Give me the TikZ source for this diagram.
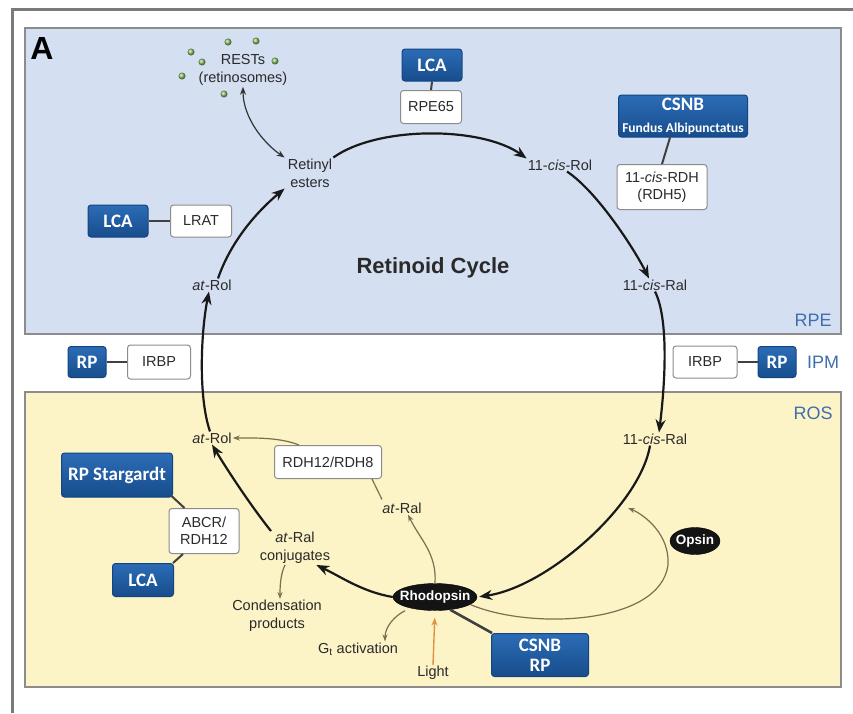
\documentclass[tikz,border=0pt]{standalone}
\usepackage{fontspec}
\setmainfont{Liberation Sans}
\newfontfamily\boxfont{Carlito}
\usetikzlibrary{arrows.meta,shapes.geometric}
\definecolor{rpeblue}{HTML}{D5DFF2}
\definecolor{rosyellow}{HTML}{FCF3C6}
\definecolor{dblue}{HTML}{1D5CA3}
\definecolor{dbluetop}{HTML}{2C6CB6}
\definecolor{dbluebot}{HTML}{174D8C}
\definecolor{dbluedraw}{HTML}{134580}
\definecolor{lbl}{HTML}{3E6FAF}
\definecolor{olivec}{HTML}{7A7050}
\definecolor{txt}{HTML}{2A2A2A}
\definecolor{dotgreen}{HTML}{8CC063}
\definecolor{framec}{HTML}{7A7A7A}
\definecolor{lightor}{HTML}{E39140}
\begin{document}
\begin{tikzpicture}[x=1pt,y=-1pt,
  lab/.style={text=txt,font=\fontsize{14.5}{18}\selectfont,align=center,inner sep=1pt},
  gene/.style={rounded corners=3pt,fill=white,draw=black!45,line width=1pt,text=txt,
    font=\fontsize{14.5}{17}\selectfont,align=center,inner sep=0pt},
  dis/.style={rounded corners=3pt,top color=dbluetop,bottom color=dbluebot,draw=dbluedraw,
    line width=1pt,text=white,font=\boxfont\bfseries\fontsize{19}{20}\selectfont,align=center,inner sep=0pt},
  ell/.style={ellipse,fill=black!92,draw=black,text=white,inner sep=0pt,
    font=\bfseries\fontsize{13.5}{15}\selectfont},
  reg/.style={text=lbl,font=\fontsize{18}{20}\selectfont,inner sep=0pt},
  cyc/.style={draw=black!90,line width=2.2pt,-{Stealth[length=13pt,width=10pt]}},
  thinarr/.style={draw=olivec,line width=1.2pt,-{Stealth[length=7pt,width=5pt]}},
  link/.style={draw=black!75,line width=2pt},
]
\useasboundingbox (0,0) rectangle (853,713);
\fill[white] (0,0) rectangle (853,713);
% frame and panels
\draw[framec,line width=3pt] (12,713) -- (12,9) -- (853,9);
\draw[fill=rpeblue,draw=black!45,line width=1.5pt] (25,28) rectangle (841,334);
\draw[fill=rosyellow,draw=black!45,line width=1.5pt] (25,392) rectangle (841,687);
\node[font=\bfseries\fontsize{32}{34}\selectfont,inner sep=0pt] (A) at (42,48) {A};
\node[reg] (rpe) at (813,320) {RPE};
\node[reg] (ipm) at (823,362) {IPM};
\node[reg] (ros) at (813,413) {ROS};
\node[font=\bfseries\fontsize{22}{24}\selectfont,text=txt] (rc) at (433,268) {Retinoid Cycle};

% RESTs
\foreach \p in {(228,42),(256,41),(191,52),(202,62),(275,61),(182,76),(224,94)}
  \shade[ball color=dotgreen] \p circle (3.5);
\node[lab] (rests) at (243,70) {RESTs\\(retinosomes)};

% cycle labels
\node[lab] (re) at (310,173) {Retinyl\\esters};
\node[lab] (cr) at (560,165) {11-\textit{cis}-Rol};
\node[lab] (crl1) at (655,285) {11-\textit{cis}-Ral};
\node[lab] (crl2) at (655,439) {11-\textit{cis}-Ral};
\node[lab] (arol1) at (212,285) {\textit{at}-Rol};
\node[lab] (arol2) at (212,438) {\textit{at}-Rol};
\node[lab] (aral) at (402,508) {\textit{at}-Ral};
\node[lab] (conj) at (295,548) {\textit{at}-Ral\\conjugates};
\node[lab] (cond) at (277,616) {Condensation\\products};
\node[lab] (gt) at (358,649) {G\textsubscript{t} activation};
\node[lab] (light) at (433,673) {Light};

% gene boxes
\node[gene,minimum width=61pt,minimum height=33pt] (rpe65) at (431,107) {RPE65};
\node[gene,minimum width=90pt,minimum height=45pt] (rdh5) at (662,187) {11-\textit{cis}-RDH\\(RDH5)};
\node[gene,minimum width=61pt,minimum height=32pt] (lrat) at (201,221) {LRAT};
\node[gene,minimum width=63pt,minimum height=34pt] (irbp1) at (159,362) {IRBP};
\node[gene,minimum width=64pt,minimum height=32pt] (irbp2) at (705,362) {IRBP};
\node[gene,minimum width=107pt,minimum height=33pt] (rdh) at (328,462) {RDH12/RDH8};
\node[gene,minimum width=70pt,minimum height=45pt] (abcr) at (204,531) {ABCR/\\RDH12};

% disease boxes
\node[dis,minimum width=60pt,minimum height=32pt] (lca1) at (432,65) {LCA};
\node[dis,minimum width=129pt,minimum height=42pt,font=\boxfont\bfseries\fontsize{19}{22}\selectfont] (csnb) at (683,116)
  {CSNB\\{\fontsize{13.5}{14}\selectfont Fundus Albipunctatus}};
\node[dis,minimum width=60pt,minimum height=32pt] (lca2) at (118,221) {LCA};
\node[dis,minimum width=38pt,minimum height=31pt] (rp1) at (87,362) {RP};
\node[dis,minimum width=38pt,minimum height=31pt] (rp2) at (777,362) {RP};
\node[dis,minimum width=111pt,minimum height=44pt] (rpst) at (117,475) {RP Stargardt};
\node[dis,minimum width=61pt,minimum height=33pt] (lca3) at (143,580) {LCA};
\node[dis,minimum width=97pt,minimum height=43pt] (csnbrp) at (540,655) {CSNB\\RP};

% ellipses
\node[ell,minimum width=84pt,minimum height=27pt] (rho) at (435,597) {\makebox[40pt]{Rhodopsin}};
\node[ell,minimum width=50pt,minimum height=27pt] (ops) at (695,541) {\makebox[26pt]{Opsin}};

% links
\draw[link] (lca1.south) -- (rpe65.north);
\draw[link] ([xshift=-13pt]csnb.south) -- (rdh5.north);
\draw[link] (lca2.east) -- (lrat.west);
\draw[link] (rp1.east) -- (irbp1.west);
\draw[link] (irbp2.east) -- (rp2.west);
\draw[link] ([xshift=-2pt,yshift=2pt]rpst.south east) -- ([xshift=16pt]abcr.north west);
\draw[link] ([xshift=-21pt]abcr.south) -- ([xshift=-1pt]lca3.north east);
\draw[link,line width=2.6pt] (rho.-40) -- ([xshift=1pt]csnbrp.north west);

% main cycle
\draw[cyc] (re.north east) .. controls +(45,-32) and +(-45,-32) .. (cr.north west);
\draw[cyc] ([xshift=7pt]cr.south) .. controls +(30,20) and +(-15,-30) .. ([xshift=-6pt]crl1.north);
\draw[cyc] (crl1.south) .. controls +(15,30) and +(5,-40) .. ([xshift=4pt]crl2.north);
\draw[cyc,shorten >=2pt] ([xshift=-5pt]crl2.south) .. controls +(-10,60) and +(70,-10) .. (rho.east);
\draw[cyc] (rho.west) .. controls +(-30,-5) and +(25,12) .. ([xshift=-15pt]conj.south east);
\draw[cyc] ([xshift=-24pt]conj.north) .. controls +(-20,-25) and +(15,25) .. (arol2.south);
\draw[cyc] ([xshift=-2pt]arol2.north) .. controls +(-12,-35) and +(-8,40) .. ([xshift=-3pt]arol1.south);
\draw[cyc] ([xshift=6pt]arol1.north) .. controls +(12,-35) and +(-30,25) .. ([xshift=-2pt]re.south west);

% RESTs exchange
\draw[draw=black!80,line width=1.2pt,{Stealth[length=8pt,width=6pt]}-{Stealth[length=8pt,width=6pt]}]
  ([xshift=-2pt]re.north west) .. controls +(-22,-15) and +(0,30) .. (rests.south);

% thin arrows in ROS
\draw[thinarr] (rho.north) .. controls +(2,-30) and +(12,25) .. ([xshift=6pt]aral.south);
\draw[draw=olivec,line width=1.2pt] ([xshift=-20pt,yshift=2pt]aral.north) -- ([xshift=-10pt]rdh.south east);
\draw[thinarr] ([xshift=25pt]rdh.north west) .. controls +(-20,-8) and +(20,0) .. (arol2.east);
\draw[thinarr] ([xshift=-10pt]conj.south) .. controls +(-5,10) and +(0,-10) .. ([xshift=3pt]cond.north);
\draw[thinarr] ([xshift=-30pt]rho.south) .. controls +(-10,5) and +(0,-15) .. ([xshift=27pt]gt.north);
\draw[draw=lightor,line width=1.4pt,-{Stealth[length=8pt,width=6pt]},shorten >=7pt] (light.north) -- (rho.south);
\coordinate (opstip) at (628,508);
\draw[thinarr] (rho.-12) .. controls (530,630) and (660,625) .. (668,565)
  .. controls (670,535) and (645,515) .. (opstip);
\end{tikzpicture}
\end{document}
